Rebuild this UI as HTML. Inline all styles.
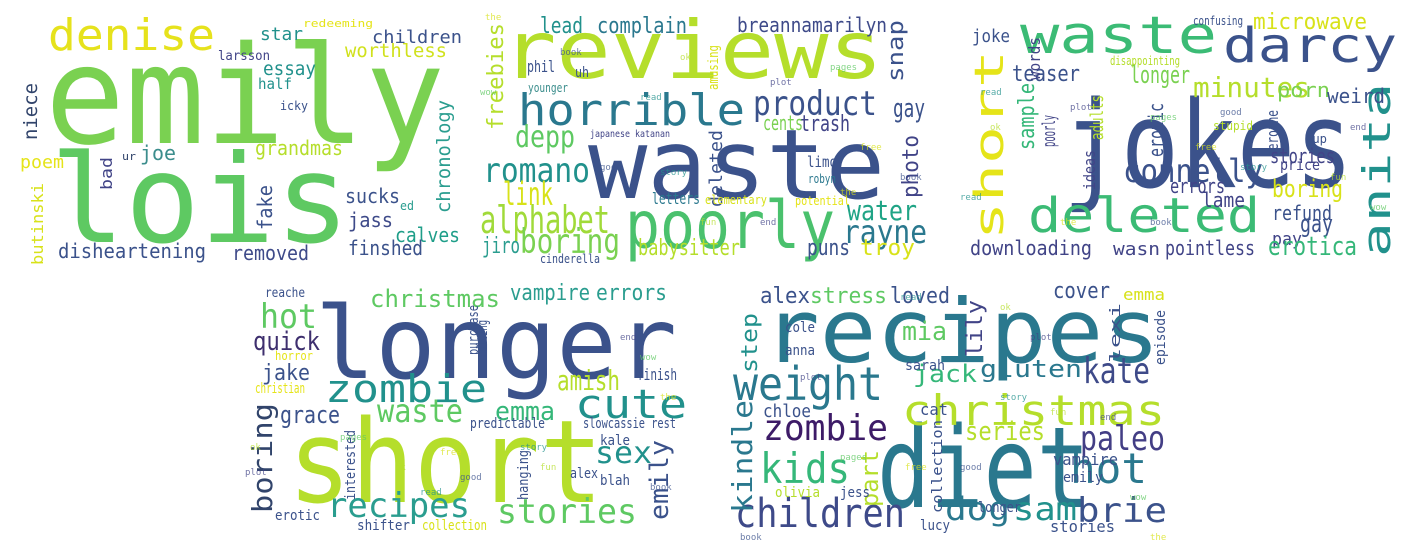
<!DOCTYPE html>
<html>
<head>
<meta charset="utf-8">
<style>
html,body{margin:0;padding:0;background:#fff;}
svg{display:block;}
text{font-family:"DejaVu Sans Mono","Liberation Mono",monospace;}
</style>
</head>
<body>
<svg id="cloud" width="1423" height="556" viewBox="0 0 1423 556" xmlns="http://www.w3.org/2000/svg">
<rect width="1423" height="556" fill="#fff"/>
</svg>
<script>
// each word: [text, x, baseline-y, font-size, color, vertical(1), textLength]
const panel1 = [
["denise",48,50,44,"#e6e21c",0,167],
["emily",45,143,136,"#7ad151",0,400],
["lois",50,242,122,"#5ec962",0,300],
["redeeming",303,27,11,"#e5e419",0,70],
["star",260,40,18,"#21918c",0,43],
["children",372,43,18,"#3b528b",0,90],
["worthless",345,57,19,"#d0e11c",0,102],
["larsson",218,60,13,"#414487",0,52],
["essay",263,75,19,"#21918c",0,53],
["half",258,89,15,"#21918c",0,34],
["icky",280,110,12,"#3b528b",0,28],
["niece",37,140,19,"#31446b",1,57],
["grandmas",255,155,20,"#b5de2b",0,88],
["ur",122,160,11,"#31446b",0,14],
["joe",140,160,20,"#3b8d8c",0,36],
["poem",20,168,18,"#e5e419",0,44],
["bad",112,190,16,"#414487",1,33],
["butinski",43,265,16,"#d8e219",1,82],
["fake",272,230,20,"#3b528b",1,45],
["sucks",345,203,20,"#3b528b",0,55],
["ed",400,210,12,"#2a9d8f",0,14],
["jass",348,227,20,"#3e4a89",0,45],
["chronology",450,213,19,"#2a9d8f",1,113],
["calves",395,242,20,"#1f9e89",0,65],
["disheartening",58,258,20,"#3b528b",0,148],
["removed",232,260,20,"#3e4a89",0,77],
["finshed",348,255,20,"#3b528b",0,75]
];
const panel2 = [
["reviews",502,78,80,"#b5de2b",0,381],
["waste",588,198,96,"#3b528b",0,297],
["horrible",518,125,44,"#2a788e",0,227],
["product",753,115,34,"#3b528b",0,124],
["poorly",625,248,66,"#4ac16d",0,210],
["alphabet",480,233,38,"#a0da39",0,130],
["romano",483,182,34,"#21918c",0,107],
["depp",515,147,30,"#5ec962",0,60],
["link",503,205,32,"#d8e219",0,50],
["jiro",482,253,22,"#2a9d8f",0,38],
["boring",520,253,34,"#7ad151",0,100],
["babysitter",638,255,22,"#b5de2b",0,102],
["rayne",843,243,32,"#2a788e",0,84],
["water",847,220,28,"#20a486",0,70],
["puns",807,255,22,"#3b528b",0,43],
["troy",860,255,22,"#d8e219",0,55],
["gay",893,117,26,"#3b528b",0,32],
["trash",800,131,22,"#414487",0,50],
["cents",763,130,20,"#7ad151",0,40],
["complain",597,33,22,"#2a788e",0,90],
["lead",540,33,22,"#21918c",0,43],
["breannamarilyn",737,32,20,"#3e4a89",0,150],
["freebies",503,130,22,"#b5de2b",1,107],
["snap",903,82,22,"#3b528b",1,62],
["photo",918,198,22,"#414487",1,63],
["deleted",722,207,18,"#3b528b",1,77],
["amusing",718,90,14,"#d8e219",1,45],
["letters",652,204,16,"#2a788e",0,48],
["elementary",705,204,12,"#d8e219",0,62],
["phil",527,72,16,"#3b528b",0,28],
["uh",575,77,14,"#3b528b",0,14],
["limo",807,167,15,"#3b528b",0,30],
["robyn",808,183,12,"#2a788e",0,28],
["younger",528,92,12,"#3b8d8c",0,40],
["potential",795,205,12,"#e5e419",0,55],
["cinderella",540,263,12,"#3b528b",0,60],
["japanese katanan",590,137,10,"#414487",0,80]
];
const panel3 = [
["jokes",1063,187,120,"#3b528b",0,290],
["waste",1020,53,52,"#3bbb75",0,197],
["darcy",1223,62,48,"#3b528b",0,174],
["short",1003,240,40,"#e5e419",1,190],
["sample",1034,150,22,"#35b779",1,67],
["deleted",1028,232,48,"#3bbb75",0,232],
["anita",1390,257,38,"#21918c",1,174],
["connelly",1123,182,32,"#3b528b",0,140],
["minutes",1193,97,28,"#b5de2b",0,117],
["longer",1130,83,24,"#7ad151",0,60],
["teaser",1012,81,22,"#3b528b",0,68],
["joke",972,42,18,"#3b528b",0,38],
["microwave",1253,29,22,"#d8e219",0,114],
["words",1040,80,16,"#414487",1,43],
["poorly",1055,147,18,"#414487",1,32],
["erotic",1163,157,20,"#3b528b",1,54],
["adults",1103,140,18,"#b5de2b",1,45],
["ideas",1095,190,16,"#414487",1,40],
["heroine",1278,157,16,"#3b528b",1,47],
["porn",1277,97,20,"#7ad151",0,53],
["weird",1327,103,20,"#3b528b",0,58],
["stories",1270,163,20,"#414487",0,65],
["boring",1272,197,24,"#d8e219",0,71],
["errors",1170,193,20,"#414487",0,55],
["lame",1202,207,20,"#414487",0,43],
["refund",1272,220,20,"#3b528b",0,60],
["gay",1300,232,24,"#3b528b",0,33],
["pay",1272,245,18,"#414487",0,30],
["erotica",1268,255,26,"#35b779",0,89],
["downloading",970,255,20,"#414487",0,122],
["wasn",1113,255,18,"#414487",0,47],
["pointless",1165,255,20,"#414487",0,90],
["disappointing",1110,65,12,"#b5de2b",0,70],
["price",1280,170,15,"#414487",0,40],
["confusing",1193,25,12,"#3b528b",0,50],
["stupid",1213,130,12,"#b5de2b",0,40],
["cup",1305,143,12,"#3b528b",0,22]
];
const panel4 = [
["longer",315,378,100,"#3b528b",0,362],
["short",288,502,115,"#b5de2b",0,315],
["zombie",325,402,38,"#21918c",0,162],
["cute",575,418,40,"#21918c",0,112],
["waste",377,422,32,"#5ec962",0,86],
["amish",557,390,28,"#b5de2b",0,63],
["emma",495,420,26,"#35b779",0,60],
["christmas",370,307,24,"#5ec962",0,130],
["vampire",510,300,22,"#2a9d8f",0,80],
["errors",596,300,22,"#2a9d8f",0,71],
["hot",260,328,34,"#5ec962",0,57],
["quick",253,350,26,"#3e2f6e",0,67],
["jake",262,380,22,"#3b528b",0,48],
["grace",280,423,24,"#3b528b",0,60],
["boring",272,513,28,"#31446b",1,110],
["emily",668,520,26,"#3b528b",1,80],
["sex",595,463,30,"#21918c",0,57],
["recipes",327,517,34,"#2a9d8f",0,143],
["stories",497,523,34,"#5ec962",0,140],
["purchase",478,355,14,"#3b528b",1,50],
["editing",487,357,14,"#3b528b",1,37],
["finish",637,380,16,"#3b528b",0,40],
["christian",255,393,14,"#e5e419",0,50],
["horror",275,360,12,"#e5e419",0,38],
["erotic",275,520,14,"#3b528b",0,45],
["shifter",357,530,14,"#3b528b",0,53],
["collection",422,530,14,"#d8e219",0,65],
["kale",600,445,14,"#3b528b",0,30],
["blah",600,485,14,"#3b528b",0,30],
["alex",570,478,14,"#3b528b",0,28],
["slowcassie rest",583,428,14,"#3b528b",0,93],
["reache",265,297,13,"#3b528b",0,40],
["predictable",470,428,14,"#3b528b",0,75],
["interested",355,500,14,"#3b528b",1,70],
["hanging",528,500,14,"#3b528b",1,50]
];
const panel5 = [
["recipes",763,362,88,"#2a788e",0,397],
["diet",877,507,112,"#2a788e",0,213],
["weight",733,400,46,"#2a788e",0,150],
["christmas",902,425,42,"#b5de2b",0,263],
["zombie",763,440,36,"#3d1b67",0,125],
["kids",760,483,42,"#35b779",0,90],
["children",735,527,40,"#3e4a89",0,170],
["kate",1083,383,36,"#3e4a89",0,67],
["paleo",1080,450,34,"#433e85",0,85],
["hot",1070,483,42,"#2a788e",0,77],
["sam",1013,520,32,"#21918c",0,64],
["brie",1077,522,34,"#3b528b",0,90],
["dog",945,520,32,"#2a788e",0,65],
["jack",913,382,24,"#35b779",0,64],
["gluten",980,377,24,"#2a788e",0,102],
["series",965,440,26,"#b5de2b",0,80],
["mia",902,340,26,"#5ec962",0,45],
["alex",760,303,22,"#3b528b",0,50],
["stress",810,303,22,"#5ec962",0,77],
["loved",890,303,22,"#3b528b",0,60],
["cover",1053,298,22,"#3b528b",0,57],
["emma",1123,300,16,"#d8e219",0,42],
["lily",982,357,22,"#414487",1,57],
["step",757,373,22,"#21918c",1,60],
["kindle",752,513,28,"#2a788e",1,113],
["part",878,507,24,"#b5de2b",1,57],
["stories",1050,532,16,"#3b528b",0,65],
["collection",942,513,14,"#3b528b",1,93],
["chloe",763,417,18,"#3b528b",0,48],
["cat",920,415,16,"#3b528b",0,28],
["vampire",1053,465,16,"#3b528b",0,65],
["olivia",775,497,14,"#b5de2b",0,45],
["jess",840,497,14,"#3b528b",0,30],
["lexi",1120,363,14,"#3b528b",1,60],
["episode",1165,365,14,"#3b528b",1,55],
["cole",785,332,14,"#3b528b",0,30],
["anna",785,355,14,"#3b528b",0,30],
["sarah",905,370,14,"#3b528b",0,40],
["longer",978,512,14,"#3b528b",0,43],
["lucy",920,530,14,"#3b528b",0,30],
["emily",1063,482,14,"#3b528b",0,40]
];
// faint filler words to mimic small noise text
const filler = ["the","book","read","ok","plot","pages","free","good","story","fun","end","wow"];
const fillerSpots = [
[485,20],[560,55],[640,100],[680,60],[770,85],[830,70],[860,150],[600,170],[660,175],[700,225],[760,225],[480,95],[840,195],[900,180],
[980,95],[990,130],[1070,110],[1150,120],[1195,150],[1220,115],[1240,170],[1330,180],[1350,130],[1370,210],[1060,225],[1150,225],[960,200],
[250,450],[245,475],[340,440],[440,455],[460,480],[520,450],[540,470],[620,340],[640,360],[660,400],[650,490],[420,495],[395,470],
[800,380],[840,460],[905,470],[960,470],[1000,400],[1050,415],[1100,420],[1130,500],[1150,540],[740,540],[900,300],[1000,310],[1030,340]
];
const fillerColors = ["#d8e219","#3b528b","#21918c","#b5de2b","#414487","#5ec962"];

const svg = document.getElementById('cloud');
const NS = "http://www.w3.org/2000/svg";
function addWord(w){
  const t = document.createElementNS(NS,'text');
  
  
  t.setAttribute('x', w[1]);
  t.setAttribute('y', w[2]);
  t.setAttribute('font-size', w[3]);
  t.setAttribute('fill', w[4]);
  t.setAttribute('textLength', w[6]);
  t.setAttribute('lengthAdjust', 'spacingAndGlyphs');
  if (w[5]) t.setAttribute('transform', 'rotate(-90 ' + w[1] + ' ' + w[2] + ')');
  t.textContent = w[0];
  svg.appendChild(t);
}
[panel1,panel2,panel3,panel4,panel5].forEach(function(p){
  p.forEach(addWord);
});
fillerSpots.forEach(function(s, i){
  const t = document.createElementNS(NS,'text');
  
  
  t.setAttribute('x', s[0]);
  t.setAttribute('y', s[1]);
  t.setAttribute('font-size', 9);
  t.setAttribute('fill', fillerColors[i % fillerColors.length]);
  t.setAttribute('opacity', '0.75');
  t.textContent = filler[i % filler.length];
  svg.appendChild(t);
});
</script>
</body>
</html>
